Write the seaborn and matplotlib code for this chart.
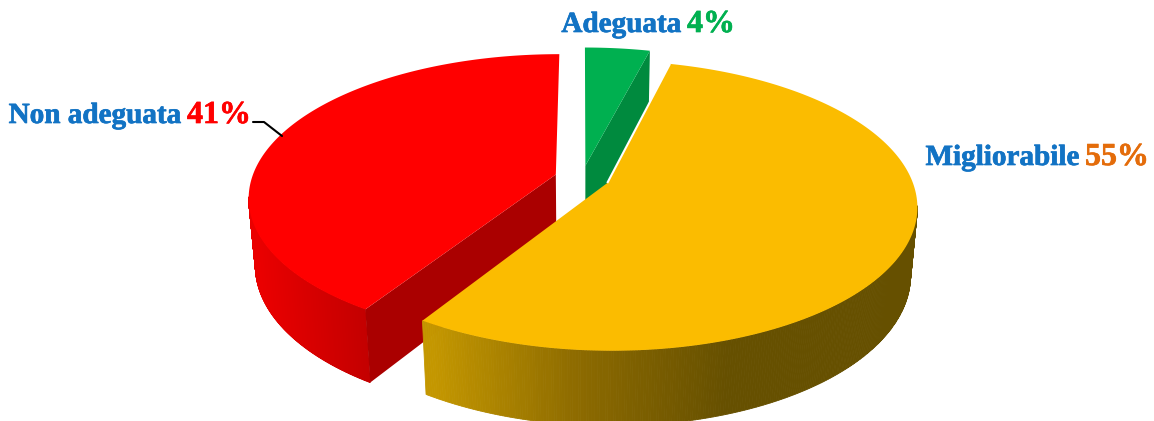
import numpy as np
import matplotlib
matplotlib.use("Agg")
import matplotlib.pyplot as plt
import matplotlib.patheffects as pe
import seaborn as sns

# Data, clockwise from 12 o'clock
categories = ["Adeguata", "Migliorabile", "Non adeguata"]
shares = [4, 55, 41]

sns.set_theme(style="white")
plt.rcParams['font.family'] = ['Liberation Serif', 'DejaVu Serif']

# Camera settings for the fake 3D pie (pixels)
X0, Y0 = 582, 178
A, B = 304, 140
P, Q = 0.155, 0.02
H = 68
EXPLODE = 0.09

top_colors = sns.color_palette(["#00B050", "#FBBC00", "#FF0000"])
inner_colors = sns.color_palette(["#008A3E", "#8A6800", "#AA0000"])
yellow_wall = sns.blend_palette(["#C49700", "#8C6A00", "#665000"], 100)
red_wall = sns.blend_palette(["#EA0000", "#C40000"], 100)


def project(u, v, z=0.0):
    s = 1 / (1 + P * v + Q * z)
    return X0 + A * u * s, Y0 - B * v * s + H * z * s


def rim(a0, a1, cu, cv, z=0.0, n=200):
    t = np.radians(np.linspace(a0, a1, n))
    return project(cu + np.sin(t), cv + np.cos(t), z)


def wedge_top(a0, a1, cu, cv):
    x, y = rim(a0, a1, cu, cv)
    px, py = project(cu, cv)
    return np.r_[px, x], np.r_[py, y]


def radial_wall(a, cu, cv):
    t = np.radians(a)
    x0, y0 = project(cu, cv)
    x1, y1 = project(cu + np.sin(t), cv + np.cos(t))
    x2, y2 = project(cu + np.sin(t), cv + np.cos(t), 1)
    x3, y3 = project(cu, cv, 1)
    return [x0, x1, x2, x3], [y0, y1, y2, y3]


def outer_wall(ax, a0, a1, cu, cv, palette, xmin, xmax, n=260):
    edges = np.linspace(a0, a1, n + 1)
    for e0, e1 in zip(edges[:-1], edges[1:]):
        xt, yt = rim(e0, e1, cu, cv, n=3)
        xb, yb = rim(e1, e0, cu, cv, z=1, n=3)
        pos = (xt.mean() - xmin) / (xmax - xmin)
        c = palette[int(np.clip(pos, 0, 0.999) * len(palette))]
        ax.fill(np.r_[xt, xb], np.r_[yt, yb], color=c, lw=0.6)


fig = plt.figure(figsize=(11.54, 4.21), dpi=100)
ax = fig.add_axes([0, 0, 1, 1])
ax.set_xlim(0, 1154)
ax.set_ylim(421, 0)
ax.axis("off")

bounds = np.cumsum([0] + shares) / sum(shares) * 360
centers = []
for a0, a1 in zip(bounds[:-1], bounds[1:]):
    mid = np.radians((a0 + a1) / 2)
    centers.append((EXPLODE * np.sin(mid), EXPLODE * np.cos(mid)))

# green slice, at the back
ax.fill(*radial_wall(bounds[1], *centers[0]), color=inner_colors[0], lw=0)
ax.fill(*wedge_top(bounds[0], bounds[1], *centers[0]), color=top_colors[0], lw=0)

# red slice
outer_wall(ax, bounds[2], 261, *centers[2], red_wall, 255, 365)
ax.fill(*radial_wall(bounds[2], *centers[2]), color=inner_colors[2], lw=0)
ax.fill(*wedge_top(bounds[2], bounds[3], *centers[2]), color=top_colors[2], lw=0)

# yellow slice, in front
outer_wall(ax, 99, bounds[2], *centers[1], yellow_wall, 430, 730)
ax.fill(*wedge_top(bounds[1], bounds[2], *centers[1]), color=top_colors[1], lw=0)
px, py = project(*centers[1])
ex, ey = rim(bounds[1], bounds[1], *centers[1], n=1)
ax.plot([px, ex[0]], [py, ey[0]], color="white", lw=1.5, solid_capstyle="butt")

# labels
blue = "#1273C4"
label_colors = ["#00B050", "#E46C0A", "#FF0000"]
label_pos = [(681, 32), (1079, 165), (181, 123)]
for name, share, c, (lx, ly) in zip(categories, shares, label_colors, label_pos):
    t1 = ax.text(lx, ly, name, color=blue, fontsize=21, fontweight="bold", ha="right", va="baseline")
    t2 = ax.text(lx + 6, ly, f"{share}%", color=c, fontsize=23, fontweight="bold", ha="left", va="baseline")
    for t in (t1, t2):
        t.set_path_effects([pe.withStroke(linewidth=0.5, foreground=t.get_color())])

# leader line of the red label
ax.plot([253, 264, 282], [122, 122, 136], color="black", lw=1.5)

fig.savefig("out.png", dpi=100)
